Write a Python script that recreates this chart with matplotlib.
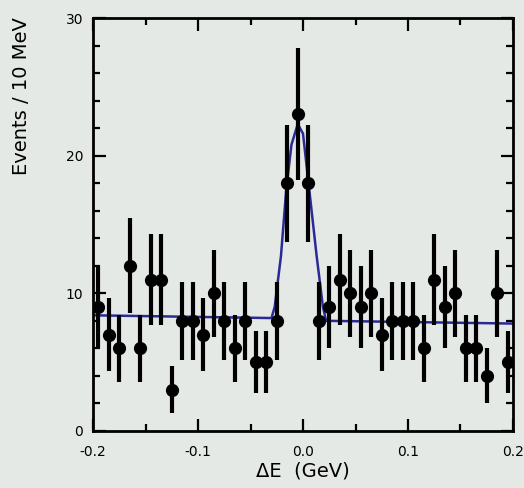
"""
Delta-E distribution: events per 10 MeV bin with signal + background fit.
"""

import numpy as np
import matplotlib.pyplot as plt
from matplotlib.ticker import MultipleLocator

# ── Data ──────────────────────────────────────────────────────────────────────
bin_centers = [-0.195, -0.185, -0.175, -0.165, -0.155, -0.145, -0.135, -0.125,
               -0.115, -0.105, -0.095, -0.085, -0.075, -0.065, -0.055, -0.045,
               -0.035, -0.025, -0.015, -0.005, 0.005, 0.015, 0.025, 0.035,
               0.045, 0.055, 0.065, 0.075, 0.085, 0.095, 0.105, 0.115,
               0.125, 0.135, 0.145, 0.155, 0.165, 0.175, 0.185, 0.195]
counts = [9, 7, 6, 12, 6, 11, 11, 3,
          8, 8, 7, 10, 8, 6, 8, 5,
          5, 8, 18, 23, 18, 8, 9, 11,
          10, 9, 10, 7, 8, 8, 8, 6,
          11, 9, 10, 6, 6, 4, 10, 5]

# fit curve, sampled by eye along the drawn line
fit_x = [-0.200, -0.030, -0.027, -0.021, -0.016, -0.011, -0.005,
         0.000, 0.006, 0.013, 0.019, 0.022, 0.200]
fit_y = [8.4, 8.2, 9.0, 12.7, 17.5, 20.8, 22.3,
         21.6, 17.5, 12.7, 9.0, 8.0, 7.8]

x_ticks = [-0.2, -0.1, 0.0, 0.1, 0.2]
x_ticklabels = ["-0.2", "-0.1", "0.0", "0.1", "0.2"]
y_ticks = [0, 10, 20, 30]

# ── Plot ──────────────────────────────────────────────────────────────────────
bg = "#e5e9e5"
plt.rcParams["font.family"] = ["DejaVu Sans"]

fig = plt.figure(figsize=(5.24, 4.88), dpi=100, facecolor=bg)
ax = fig.add_axes([0.1775, 0.117, 0.8015, 0.846], facecolor=bg)

ax.plot(fit_x, fit_y, color="#2a2a96", lw=1.8, zorder=2)

err = np.sqrt(counts)
ax.errorbar(bin_centers, counts, yerr=err, fmt="o", color="black",
            ms=8.5, elinewidth=3, capsize=0, zorder=3)

ax.set_xlim(-0.2, 0.2)
ax.set_ylim(0, 30)
ax.set_xticks(x_ticks)
ax.set_xticklabels(x_ticklabels)
ax.set_yticks(y_ticks)
ax.xaxis.set_minor_locator(MultipleLocator(0.05))
ax.yaxis.set_minor_locator(MultipleLocator(2))
ax.tick_params(which="both", direction="in", top=True, right=True,
               width=1.6, labelsize=10)
ax.tick_params(which="major", length=9)
ax.tick_params(which="minor", length=5)
ax.tick_params(axis="x", pad=10)
ax.tick_params(axis="y", pad=7)
for s in ax.spines.values():
    s.set_linewidth(2)

ax.set_xlabel("ΔE  (GeV)", fontsize=14, labelpad=2)
ax.set_ylabel("Events / 10 MeV", fontsize=14)
ax.yaxis.set_label_coords(-0.148, 0.81)

fig.savefig("out.png", dpi=100, facecolor=bg)
